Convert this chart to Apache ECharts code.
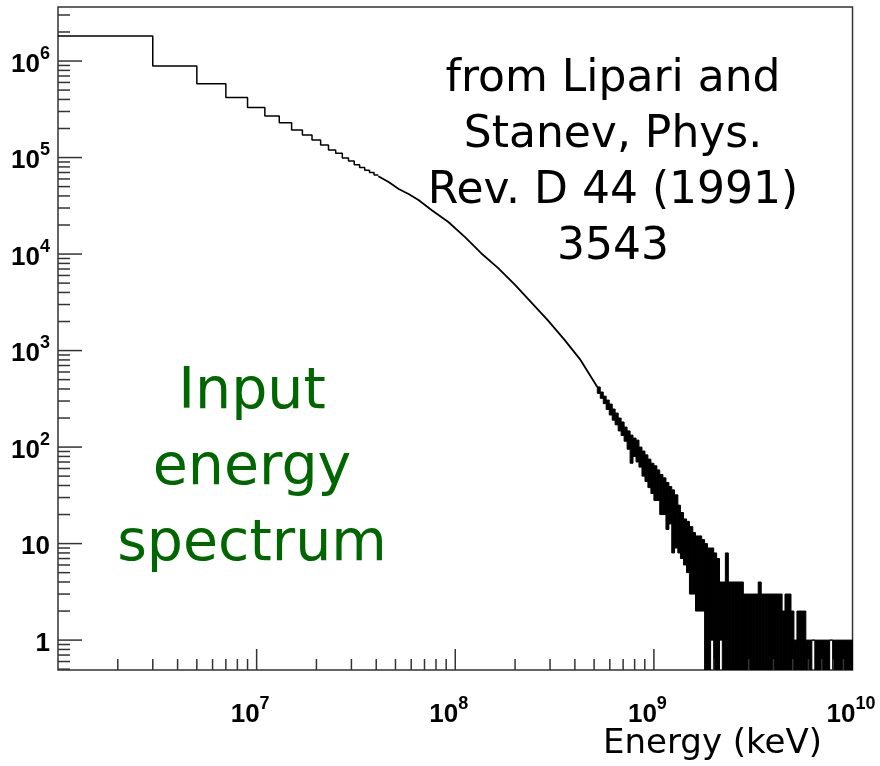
<!DOCTYPE html>
<html>
<head>
<meta charset="utf-8">
<script src="https://cdn.jsdelivr.net/npm/echarts@6/dist/echarts.min.js"></script>
<style>
html,body{margin:0;padding:0;background:#fff;}
#chart{width:880px;height:766px;}
</style>
</head>
<body>
<div id="chart"></div>
<script>
// ---------- data ----------
// low-energy histogram bins (left edges, keV) and counts
const stepEdges = [1e6, 3e6, 5e6, 7e6, 9e6, 11e6, 13e6, 15e6, 17e6, 19e6,
                   21e6, 23e6, 25e6, 27e6, 29e6, 31e6, 33e6, 35e6, 37e6, 39e6];
const stepLastEdge = 41e6;
const stepCounts = [1.82e6, 8.9e5, 5.8e5, 4.2e5, 3.3e5, 2.7e5, 2.3e5, 1.93e5, 1.71e5, 1.52e5,
                    1.35e5, 1.2e5, 1.11e5, 9.9e4, 9.2e4, 8.4e4, 7.9e4, 7.4e4, 7.0e4, 6.6e4];

// middle part of the spectrum (energy keV, counts)
const midEnergy = [4.1e7, 4.62e7, 5.19e7, 5.82e7, 6.53e7, 7.59e7, 9.23e7, 1.12e8, 1.35e8,
                   1.64e8, 2.0e8, 2.4e8, 2.92e8, 3.55e8, 4.27e8, 5.19e8];
const midCounts = [6.4e4, 5.57e4, 4.72e4, 4.19e4, 3.63e4, 2.86e4, 2.15e4, 1.5e4, 1.02e4,
                   7.2e3, 4.8e3, 3.2e3, 2.07e3, 1.29e3, 800, 420];

// noisy high-energy tail: column left edges (keV), max and min bin counts in each column
const tailEnergy = [5.19e8, 5.37e8, 5.56e8, 5.75e8, 5.96e8, 6.17e8, 6.38e8, 6.61e8, 6.84e8, 7.08e8,
  7.33e8, 7.59e8, 7.85e8, 8.13e8, 8.41e8, 8.71e8, 9.02e8, 9.33e8, 9.66e8, 1.0e9,
  1.035e9, 1.07e9, 1.11e9, 1.15e9, 1.19e9, 1.23e9, 1.27e9, 1.32e9, 1.36e9, 1.41e9,
  1.46e9, 1.51e9, 1.57e9, 1.62e9, 1.68e9, 1.74e9, 1.80e9, 1.86e9, 1.93e9, 2.0e9,
  2.07e9, 2.14e9, 2.21e9, 2.29e9, 2.37e9, 2.45e9, 2.54e9, 2.63e9, 2.72e9, 2.82e9,
  2.92e9, 3.02e9, 3.13e9, 3.24e9, 3.35e9, 3.47e9, 3.59e9, 3.72e9, 3.85e9, 3.98e9,
  4.12e9, 4.27e9, 4.42e9, 4.57e9, 4.73e9, 4.90e9, 5.07e9, 5.25e9, 5.43e9, 5.62e9,
  5.82e9, 6.03e9, 6.24e9, 6.46e9, 6.68e9, 6.92e9, 7.16e9, 7.41e9, 7.67e9, 7.94e9,
  8.22e9, 8.51e9, 8.81e9, 9.12e9, 9.44e9, 9.77e9];
const tailEnd = 1e10;
const tailMax = [420, 372, 337, 307, 279, 248, 225, 200, 182, 161,
  147, 133, 124, 118, 100, 91, 83, 75, 68, 64,
  58, 52, 48, 43, 39, 36, 32, 25, 21, 18,
  17, 15, 13, 12, 12, 11, 10, 9, 9, 8,
  7, 4, 4, 8, 4, 4, 4, 4, 4, 3,
  3, 3, 3, 3, 4, 3, 3, 3, 3, 3,
  3, 3, 2, 3, 3, 2, 1, 2, 2, 2,
  1, 1, 1, 1, 1, 1, 1, 1, 1, 1,
  1, 1, 1, 1, 1, 1];
const tailMin = [360, 320, 282, 245, 215, 190, 170, 147, 132, 115,
  95, 68, 80, 70, 62, 50, 44, 38, 33, 28,
  28, 20, 20, 14, 16, 8, 9, 8, 7, 6,
  5, 3, 3, 2, 2, 2, 0, 0, 1, 0,
  0, 1, 0, 0, 0, 0, 0, 0, 0, 0,
  0, 0, 0, 0, 0, 0, 0, 0, 0, 0,
  0, 0, 0, 0, 0, 0, 0, 0, 0, 0,
  0, 0, 1, 0, 0, 0, 0, 0, 1, 0,
  0, 0, 0, 0, 0, 0];

// axes
const xMin = 1e6, xMax = 1e10;
const yMin = 0.49, yMax = 3.63e6;
const xDecades = [1e6, 1e7, 1e8, 1e9];
const xMajorTicks = [1e7, 1e8, 1e9];
const yDecades = [0.1, 1, 10, 100, 1e3, 1e4, 1e5, 1e6];
const yMajorTicks = [1, 10, 100, 1e3, 1e4, 1e5, 1e6];
const minorMultipliers = [2, 3, 4, 5, 6, 7, 8, 9];

// ---------- build ----------
const stepData = stepEdges.map((e, i) => [e, stepCounts[i]]);
stepData.push([stepLastEdge, stepCounts[stepCounts.length - 1]]);
const midData = midEnergy.map((e, i) => [e, midCounts[i]]);
const tailData = tailEnergy.map((e, i) => [e, i + 1 < tailEnergy.length ? tailEnergy[i + 1] : tailEnd,
  tailMax[i], tailMin[i] > 0 ? tailMin[i] : yMin * 0.3]);

const xMinorTicks = [];
xDecades.forEach(d => minorMultipliers.forEach(m => xMinorTicks.push(d * m)));
const yMinorTicks = [];
yDecades.forEach(d => minorMultipliers.forEach(m => { const v = d * m; if (v >= yMin && v <= yMax) yMinorTicks.push(v); }));

const FRAME = '#333';

function tickSeries(values, axis, len) {
  return {
    type: 'custom', silent: true, clip: false, z: 5,
    data: values.map(v => axis === 'x' ? [v, yMin] : [xMin, v]),
    encode: {x: 0, y: 1},
    renderItem: function (params, api) {
      const p = api.coord([api.value(0), api.value(1)]);
      const shape = axis === 'x'
        ? {x1: p[0], y1: p[1], x2: p[0], y2: p[1] - len}
        : {x1: p[0], y1: p[1], x2: p[0] + len, y2: p[1]};
      return {type: 'line', shape: shape, style: {stroke: FRAME, lineWidth: 1.5}};
    }
  };
}

function expLabel(v, axis) {
  const k = Math.log10(v);
  const r = Math.round(k);
  if (Math.abs(k - r) > 1e-6) return '';
  if (axis === 'x' && r === 6) return '';
  if (r === 0) return '{b|1}';
  if (r === 1) return '{b|10}';
  if (axis === 'x') return '{b|10}{s|' + r + '}' + (r >= 10 ? '{p2|}' : '{p1|}');
  return '{b|10}{s|' + r + '}';
}
const rich = {
  b: {fontFamily: 'Liberation Sans', fontWeight: 'bold', fontSize: 26, lineHeight: 33, verticalAlign: 'bottom', color: '#000'},
  s: {fontFamily: 'Liberation Sans', fontWeight: 'bold', fontSize: 18, lineHeight: 18, verticalAlign: 'top', color: '#000'},
  p1: {width: 13},
  p2: {width: 3}
};

const chart = echarts.init(document.getElementById('chart'), null, {renderer: 'canvas'});
chart.setOption({
  animation: false,
  backgroundColor: '#fff',
  grid: {left: 58, top: 7, right: 23, bottom: 96, show: true, borderColor: FRAME, borderWidth: 1.5, backgroundColor: 'transparent'},
  xAxis: {
    type: 'log', logBase: 10, min: xMin, max: xMax,
    axisLine: {show: false}, axisTick: {show: false}, splitLine: {show: false},
    axisLabel: {margin: 25, formatter: v => expLabel(v, 'x'), rich: rich, showMinLabel: true, showMaxLabel: true, hideOverlap: false}
  },
  yAxis: {
    type: 'log', logBase: 10, min: yMin, max: yMax,
    axisLine: {show: false}, axisTick: {show: false}, splitLine: {show: false},
    axisLabel: {margin: 8, formatter: v => expLabel(v, 'y'), rich: rich, hideOverlap: false}
  },
  series: [
    {type: 'line', data: stepData, step: 'end', showSymbol: false, symbol: 'none',
     lineStyle: {color: '#000', width: 1.5}, z: 3},
    {type: 'line', data: midData, showSymbol: false, symbol: 'none',
     lineStyle: {color: '#000', width: 1.8}, z: 3},
    {type: 'custom', clip: true, z: 3, data: tailData, encode: {x: [0, 1], y: [2, 3]},
     renderItem: function (params, api) {
       const a = api.coord([api.value(0), api.value(2)]);
       const b = api.coord([api.value(1), api.value(3)]);
       return {type: 'rect', shape: {x: a[0], y: a[1], width: b[0] - a[0], height: b[1] - a[1]},
               style: {fill: '#000', stroke: '#000', lineWidth: 1}};
     }},
    tickSeries(xMajorTicks, 'x', 21),
    tickSeries(xMinorTicks, 'x', 11),
    tickSeries(yMajorTicks, 'y', 24),
    tickSeries(yMinorTicks, 'y', 12)
  ],
  graphic: [
    {type: 'text', x: 613, y: 164, z: 10,
     style: {text: 'from Lipari and\nStanev, Phys.\nRev. D 44 (1991)\n3543',
             font: '44px "DejaVu Sans"', lineHeight: 56, fill: '#000', align: 'center', verticalAlign: 'middle'}},
    {type: 'text', x: 252, y: 469, z: 10,
     style: {text: 'Input\nenergy\nspectrum',
             font: '57px "DejaVu Sans"', lineHeight: 76, fill: '#006600', align: 'center', verticalAlign: 'middle'}},
    {type: 'text', x: 822, y: 744, z: 10,
     style: {text: 'Energy (keV)', font: '34px "DejaVu Sans"', fill: '#000', align: 'right', verticalAlign: 'middle'}}
  ]
});
</script>
</body>
</html>
